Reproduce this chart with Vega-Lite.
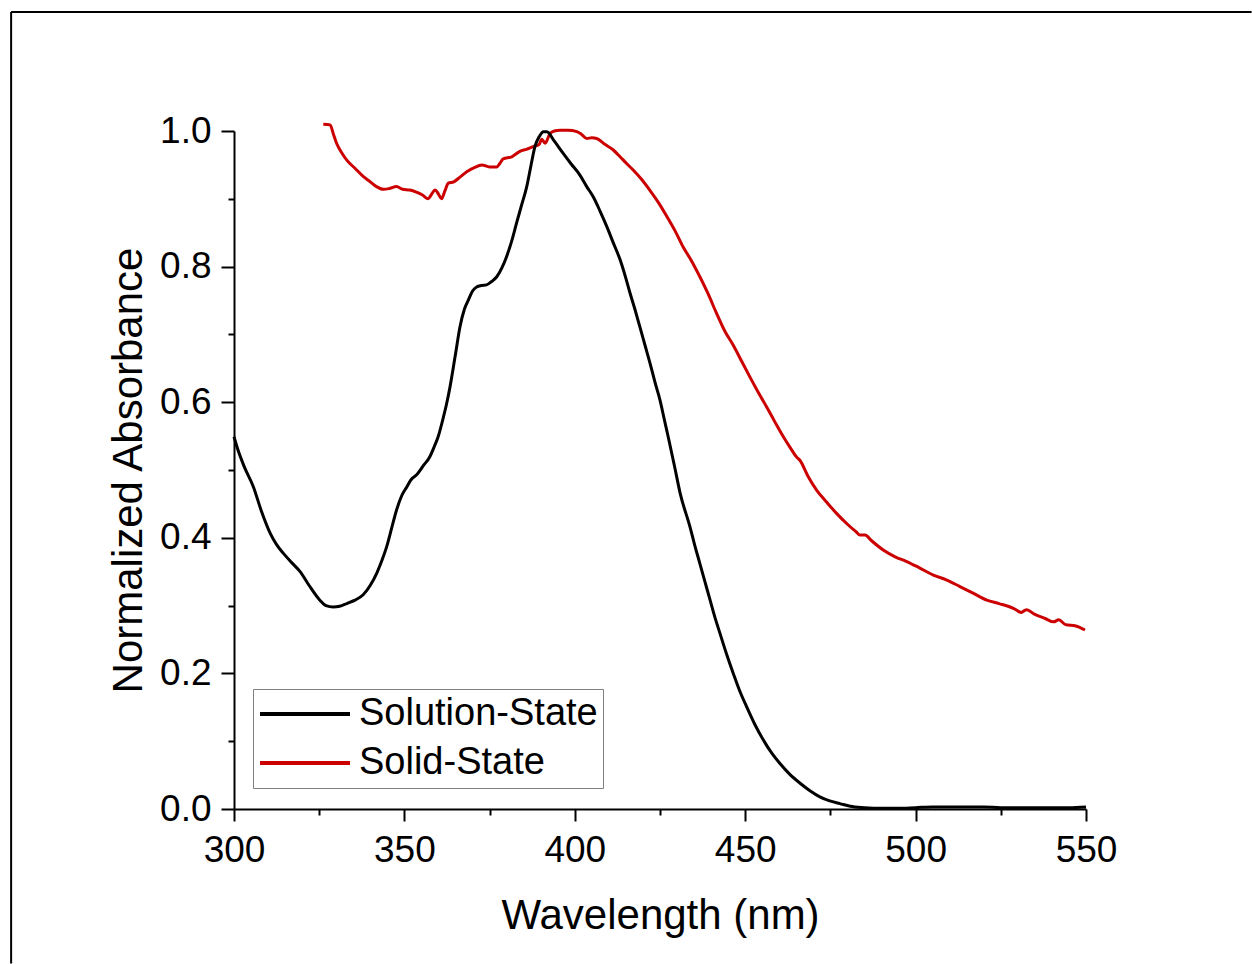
{
  "$schema": "https://vega.github.io/schema/vega-lite/v6.json",
  "autosize": "none",
  "width": 852,
  "height": 678,
  "padding": {"left": 234, "top": 131, "right": 166, "bottom": 155},
  "background": "white",
  "config": {
    "view": {"stroke": null},
    "font": "Liberation Sans",
    "axis": {"grid": false, "domainColor": "black", "domainWidth": 2, "tickColor": "black", "tickWidth": 2, "labelColor": "black", "titleColor": "black", "labelFont": "Liberation Sans", "titleFont": "Liberation Sans", "labelFontSize": 37, "titleFontSize": 42, "titleFontWeight": "normal"}
  },
  "datasets": {
    "spectra": [
      {"wl": 326.2, "abs": 1.010, "series": "Solid-State"},
      {"wl": 328.2, "abs": 1.009, "series": "Solid-State"},
      {"wl": 329.2, "abs": 0.995, "series": "Solid-State"},
      {"wl": 330.1, "abs": 0.982, "series": "Solid-State"},
      {"wl": 331.6, "abs": 0.968, "series": "Solid-State"},
      {"wl": 333.1, "abs": 0.957, "series": "Solid-State"},
      {"wl": 335.5, "abs": 0.945, "series": "Solid-State"},
      {"wl": 337.9, "abs": 0.933, "series": "Solid-State"},
      {"wl": 340.0, "abs": 0.925, "series": "Solid-State"},
      {"wl": 341.8, "abs": 0.918, "series": "Solid-State"},
      {"wl": 343.8, "abs": 0.914, "series": "Solid-State"},
      {"wl": 345.5, "abs": 0.915, "series": "Solid-State"},
      {"wl": 347.7, "abs": 0.918, "series": "Solid-State"},
      {"wl": 349.5, "abs": 0.914, "series": "Solid-State"},
      {"wl": 351.6, "abs": 0.913, "series": "Solid-State"},
      {"wl": 353.5, "abs": 0.910, "series": "Solid-State"},
      {"wl": 355.2, "abs": 0.906, "series": "Solid-State"},
      {"wl": 357.0, "abs": 0.900, "series": "Solid-State"},
      {"wl": 358.0, "abs": 0.907, "series": "Solid-State"},
      {"wl": 359.0, "abs": 0.913, "series": "Solid-State"},
      {"wl": 360.0, "abs": 0.907, "series": "Solid-State"},
      {"wl": 360.9, "abs": 0.900, "series": "Solid-State"},
      {"wl": 361.9, "abs": 0.912, "series": "Solid-State"},
      {"wl": 362.9, "abs": 0.923, "series": "Solid-State"},
      {"wl": 364.5, "abs": 0.925, "series": "Solid-State"},
      {"wl": 366.3, "abs": 0.932, "series": "Solid-State"},
      {"wl": 368.3, "abs": 0.940, "series": "Solid-State"},
      {"wl": 370.5, "abs": 0.946, "series": "Solid-State"},
      {"wl": 372.7, "abs": 0.950, "series": "Solid-State"},
      {"wl": 375.0, "abs": 0.947, "series": "Solid-State"},
      {"wl": 377.1, "abs": 0.947, "series": "Solid-State"},
      {"wl": 378.0, "abs": 0.952, "series": "Solid-State"},
      {"wl": 379.0, "abs": 0.959, "series": "Solid-State"},
      {"wl": 381.5, "abs": 0.962, "series": "Solid-State"},
      {"wl": 383.9, "abs": 0.970, "series": "Solid-State"},
      {"wl": 385.8, "abs": 0.973, "series": "Solid-State"},
      {"wl": 387.8, "abs": 0.977, "series": "Solid-State"},
      {"wl": 389.5, "abs": 0.980, "series": "Solid-State"},
      {"wl": 390.3, "abs": 0.988, "series": "Solid-State"},
      {"wl": 391.3, "abs": 0.982, "series": "Solid-State"},
      {"wl": 392.7, "abs": 0.996, "series": "Solid-State"},
      {"wl": 394.0, "abs": 1.000, "series": "Solid-State"},
      {"wl": 395.7, "abs": 1.001, "series": "Solid-State"},
      {"wl": 398.0, "abs": 1.001, "series": "Solid-State"},
      {"wl": 400.6, "abs": 0.999, "series": "Solid-State"},
      {"wl": 402.0, "abs": 0.995, "series": "Solid-State"},
      {"wl": 403.5, "abs": 0.989, "series": "Solid-State"},
      {"wl": 405.0, "abs": 0.990, "series": "Solid-State"},
      {"wl": 406.4, "abs": 0.989, "series": "Solid-State"},
      {"wl": 408.9, "abs": 0.980, "series": "Solid-State"},
      {"wl": 411.3, "abs": 0.972, "series": "Solid-State"},
      {"wl": 413.3, "abs": 0.962, "series": "Solid-State"},
      {"wl": 415.2, "abs": 0.952, "series": "Solid-State"},
      {"wl": 417.2, "abs": 0.942, "series": "Solid-State"},
      {"wl": 419.7, "abs": 0.928, "series": "Solid-State"},
      {"wl": 422.1, "abs": 0.912, "series": "Solid-State"},
      {"wl": 424.6, "abs": 0.894, "series": "Solid-State"},
      {"wl": 427.0, "abs": 0.874, "series": "Solid-State"},
      {"wl": 429.5, "abs": 0.852, "series": "Solid-State"},
      {"wl": 431.8, "abs": 0.829, "series": "Solid-State"},
      {"wl": 434.3, "abs": 0.808, "series": "Solid-State"},
      {"wl": 436.7, "abs": 0.785, "series": "Solid-State"},
      {"wl": 439.1, "abs": 0.760, "series": "Solid-State"},
      {"wl": 441.6, "abs": 0.731, "series": "Solid-State"},
      {"wl": 444.0, "abs": 0.705, "series": "Solid-State"},
      {"wl": 446.5, "abs": 0.684, "series": "Solid-State"},
      {"wl": 449.0, "abs": 0.660, "series": "Solid-State"},
      {"wl": 451.4, "abs": 0.637, "series": "Solid-State"},
      {"wl": 453.9, "abs": 0.614, "series": "Solid-State"},
      {"wl": 456.3, "abs": 0.593, "series": "Solid-State"},
      {"wl": 458.7, "abs": 0.571, "series": "Solid-State"},
      {"wl": 461.2, "abs": 0.549, "series": "Solid-State"},
      {"wl": 463.2, "abs": 0.533, "series": "Solid-State"},
      {"wl": 465.1, "abs": 0.519, "series": "Solid-State"},
      {"wl": 466.1, "abs": 0.514, "series": "Solid-State"},
      {"wl": 468.5, "abs": 0.490, "series": "Solid-State"},
      {"wl": 471.0, "abs": 0.470, "series": "Solid-State"},
      {"wl": 474.0, "abs": 0.452, "series": "Solid-State"},
      {"wl": 476.8, "abs": 0.436, "series": "Solid-State"},
      {"wl": 480.0, "abs": 0.420, "series": "Solid-State"},
      {"wl": 482.5, "abs": 0.409, "series": "Solid-State"},
      {"wl": 483.7, "abs": 0.404, "series": "Solid-State"},
      {"wl": 485.2, "abs": 0.404, "series": "Solid-State"},
      {"wl": 487.0, "abs": 0.396, "series": "Solid-State"},
      {"wl": 490.5, "abs": 0.382, "series": "Solid-State"},
      {"wl": 494.0, "abs": 0.372, "series": "Solid-State"},
      {"wl": 497.4, "abs": 0.365, "series": "Solid-State"},
      {"wl": 501.0, "abs": 0.356, "series": "Solid-State"},
      {"wl": 505.2, "abs": 0.345, "series": "Solid-State"},
      {"wl": 509.0, "abs": 0.338, "series": "Solid-State"},
      {"wl": 513.0, "abs": 0.328, "series": "Solid-State"},
      {"wl": 517.0, "abs": 0.318, "series": "Solid-State"},
      {"wl": 520.9, "abs": 0.308, "series": "Solid-State"},
      {"wl": 524.5, "abs": 0.303, "series": "Solid-State"},
      {"wl": 528.7, "abs": 0.296, "series": "Solid-State"},
      {"wl": 531.0, "abs": 0.290, "series": "Solid-State"},
      {"wl": 532.5, "abs": 0.294, "series": "Solid-State"},
      {"wl": 535.0, "abs": 0.287, "series": "Solid-State"},
      {"wl": 538.0, "abs": 0.281, "series": "Solid-State"},
      {"wl": 540.5, "abs": 0.276, "series": "Solid-State"},
      {"wl": 542.0, "abs": 0.279, "series": "Solid-State"},
      {"wl": 544.0, "abs": 0.272, "series": "Solid-State"},
      {"wl": 547.0, "abs": 0.270, "series": "Solid-State"},
      {"wl": 549.7, "abs": 0.264, "series": "Solid-State"},
      {"wl": 300.0, "abs": 0.549, "series": "Solution-State"},
      {"wl": 301.0, "abs": 0.532, "series": "Solution-State"},
      {"wl": 303.0, "abs": 0.505, "series": "Solution-State"},
      {"wl": 305.7, "abs": 0.475, "series": "Solution-State"},
      {"wl": 308.0, "abs": 0.440, "series": "Solution-State"},
      {"wl": 310.6, "abs": 0.407, "series": "Solution-State"},
      {"wl": 312.5, "abs": 0.390, "series": "Solution-State"},
      {"wl": 314.5, "abs": 0.377, "series": "Solution-State"},
      {"wl": 317.0, "abs": 0.363, "series": "Solution-State"},
      {"wl": 319.4, "abs": 0.350, "series": "Solution-State"},
      {"wl": 322.0, "abs": 0.330, "series": "Solution-State"},
      {"wl": 325.2, "abs": 0.308, "series": "Solution-State"},
      {"wl": 327.0, "abs": 0.300, "series": "Solution-State"},
      {"wl": 329.1, "abs": 0.298, "series": "Solution-State"},
      {"wl": 331.0, "abs": 0.299, "series": "Solution-State"},
      {"wl": 333.1, "abs": 0.303, "series": "Solution-State"},
      {"wl": 335.5, "abs": 0.308, "series": "Solution-State"},
      {"wl": 337.9, "abs": 0.316, "series": "Solution-State"},
      {"wl": 340.0, "abs": 0.330, "series": "Solution-State"},
      {"wl": 341.9, "abs": 0.348, "series": "Solution-State"},
      {"wl": 343.5, "abs": 0.368, "series": "Solution-State"},
      {"wl": 344.8, "abs": 0.387, "series": "Solution-State"},
      {"wl": 346.3, "abs": 0.415, "series": "Solution-State"},
      {"wl": 347.7, "abs": 0.441, "series": "Solution-State"},
      {"wl": 349.2, "abs": 0.462, "series": "Solution-State"},
      {"wl": 350.7, "abs": 0.475, "series": "Solution-State"},
      {"wl": 352.0, "abs": 0.486, "series": "Solution-State"},
      {"wl": 353.6, "abs": 0.493, "series": "Solution-State"},
      {"wl": 355.5, "abs": 0.506, "series": "Solution-State"},
      {"wl": 357.5, "abs": 0.520, "series": "Solution-State"},
      {"wl": 358.8, "abs": 0.535, "series": "Solution-State"},
      {"wl": 359.9, "abs": 0.549, "series": "Solution-State"},
      {"wl": 361.2, "abs": 0.573, "series": "Solution-State"},
      {"wl": 362.4, "abs": 0.598, "series": "Solution-State"},
      {"wl": 363.4, "abs": 0.623, "series": "Solution-State"},
      {"wl": 364.9, "abs": 0.668, "series": "Solution-State"},
      {"wl": 366.3, "abs": 0.711, "series": "Solution-State"},
      {"wl": 367.6, "abs": 0.737, "series": "Solution-State"},
      {"wl": 368.8, "abs": 0.751, "series": "Solution-State"},
      {"wl": 370.0, "abs": 0.764, "series": "Solution-State"},
      {"wl": 371.2, "abs": 0.770, "series": "Solution-State"},
      {"wl": 372.6, "abs": 0.772, "series": "Solution-State"},
      {"wl": 374.1, "abs": 0.773, "series": "Solution-State"},
      {"wl": 375.6, "abs": 0.778, "series": "Solution-State"},
      {"wl": 377.1, "abs": 0.785, "series": "Solution-State"},
      {"wl": 378.6, "abs": 0.798, "series": "Solution-State"},
      {"wl": 380.0, "abs": 0.815, "series": "Solution-State"},
      {"wl": 381.5, "abs": 0.838, "series": "Solution-State"},
      {"wl": 382.9, "abs": 0.864, "series": "Solution-State"},
      {"wl": 384.4, "abs": 0.891, "series": "Solution-State"},
      {"wl": 385.9, "abs": 0.918, "series": "Solution-State"},
      {"wl": 387.1, "abs": 0.948, "series": "Solution-State"},
      {"wl": 388.3, "abs": 0.977, "series": "Solution-State"},
      {"wl": 389.6, "abs": 0.992, "series": "Solution-State"},
      {"wl": 390.8, "abs": 0.999, "series": "Solution-State"},
      {"wl": 391.8, "abs": 0.999, "series": "Solution-State"},
      {"wl": 394.0, "abs": 0.985, "series": "Solution-State"},
      {"wl": 396.6, "abs": 0.967, "series": "Solution-State"},
      {"wl": 399.0, "abs": 0.951, "series": "Solution-State"},
      {"wl": 401.5, "abs": 0.935, "series": "Solution-State"},
      {"wl": 403.5, "abs": 0.918, "series": "Solution-State"},
      {"wl": 405.4, "abs": 0.903, "series": "Solution-State"},
      {"wl": 407.4, "abs": 0.882, "series": "Solution-State"},
      {"wl": 409.4, "abs": 0.859, "series": "Solution-State"},
      {"wl": 411.3, "abs": 0.835, "series": "Solution-State"},
      {"wl": 413.3, "abs": 0.810, "series": "Solution-State"},
      {"wl": 414.8, "abs": 0.786, "series": "Solution-State"},
      {"wl": 416.2, "abs": 0.761, "series": "Solution-State"},
      {"wl": 417.7, "abs": 0.736, "series": "Solution-State"},
      {"wl": 419.1, "abs": 0.711, "series": "Solution-State"},
      {"wl": 420.6, "abs": 0.684, "series": "Solution-State"},
      {"wl": 422.1, "abs": 0.657, "series": "Solution-State"},
      {"wl": 423.5, "abs": 0.630, "series": "Solution-State"},
      {"wl": 425.0, "abs": 0.603, "series": "Solution-State"},
      {"wl": 426.2, "abs": 0.576, "series": "Solution-State"},
      {"wl": 427.4, "abs": 0.549, "series": "Solution-State"},
      {"wl": 429.2, "abs": 0.507, "series": "Solution-State"},
      {"wl": 430.9, "abs": 0.466, "series": "Solution-State"},
      {"wl": 433.8, "abs": 0.416, "series": "Solution-State"},
      {"wl": 435.2, "abs": 0.389, "series": "Solution-State"},
      {"wl": 436.7, "abs": 0.362, "series": "Solution-State"},
      {"wl": 438.2, "abs": 0.335, "series": "Solution-State"},
      {"wl": 439.7, "abs": 0.308, "series": "Solution-State"},
      {"wl": 441.1, "abs": 0.283, "series": "Solution-State"},
      {"wl": 442.6, "abs": 0.259, "series": "Solution-State"},
      {"wl": 444.5, "abs": 0.229, "series": "Solution-State"},
      {"wl": 446.5, "abs": 0.200, "series": "Solution-State"},
      {"wl": 448.4, "abs": 0.174, "series": "Solution-State"},
      {"wl": 450.4, "abs": 0.151, "series": "Solution-State"},
      {"wl": 452.8, "abs": 0.125, "series": "Solution-State"},
      {"wl": 455.3, "abs": 0.102, "series": "Solution-State"},
      {"wl": 457.7, "abs": 0.083, "series": "Solution-State"},
      {"wl": 460.2, "abs": 0.067, "series": "Solution-State"},
      {"wl": 463.1, "abs": 0.051, "series": "Solution-State"},
      {"wl": 466.1, "abs": 0.038, "series": "Solution-State"},
      {"wl": 469.0, "abs": 0.027, "series": "Solution-State"},
      {"wl": 471.9, "abs": 0.018, "series": "Solution-State"},
      {"wl": 474.8, "abs": 0.012, "series": "Solution-State"},
      {"wl": 477.8, "abs": 0.008, "series": "Solution-State"},
      {"wl": 480.8, "abs": 0.004, "series": "Solution-State"},
      {"wl": 485.0, "abs": 0.002, "series": "Solution-State"},
      {"wl": 490.0, "abs": 0.001, "series": "Solution-State"},
      {"wl": 495.0, "abs": 0.001, "series": "Solution-State"},
      {"wl": 500.0, "abs": 0.002, "series": "Solution-State"},
      {"wl": 505.0, "abs": 0.003, "series": "Solution-State"},
      {"wl": 510.0, "abs": 0.003, "series": "Solution-State"},
      {"wl": 515.0, "abs": 0.003, "series": "Solution-State"},
      {"wl": 520.0, "abs": 0.003, "series": "Solution-State"},
      {"wl": 525.0, "abs": 0.002, "series": "Solution-State"},
      {"wl": 530.0, "abs": 0.002, "series": "Solution-State"},
      {"wl": 535.0, "abs": 0.002, "series": "Solution-State"},
      {"wl": 540.0, "abs": 0.002, "series": "Solution-State"},
      {"wl": 545.0, "abs": 0.002, "series": "Solution-State"},
      {"wl": 550.0, "abs": 0.003, "series": "Solution-State"}
    ],
    "frame": [{"name": "frame"}]
  },
  "layer": [
    {
      "data": {"name": "frame"},
      "mark": {"type": "rule", "stroke": "black", "strokeWidth": 2, "clip": false},
      "encoding": {
        "x": {"datum": 234.6, "type": "quantitative", "scale": {"domain": [300, 550]}},
        "y": {"datum": 1.1755, "type": "quantitative", "scale": {"domain": [0, 1]}},
        "y2": {"datum": -0.228}
      }
    },
    {
      "data": {"name": "frame"},
      "mark": {"type": "rule", "stroke": "black", "strokeWidth": 2, "clip": false},
      "encoding": {
        "x": {"datum": 234.6, "type": "quantitative"},
        "x2": {"datum": 598.6},
        "y": {"datum": 1.1755, "type": "quantitative"}
      }
    },
    {
      "data": {"name": "spectra"},
      "mark": {"type": "line", "strokeWidth": 3, "clip": false, "interpolate": "monotone"},
      "encoding": {
        "x": {
          "field": "wl", "type": "quantitative",
          "scale": {"domain": [300, 550], "nice": false, "zero": false},
          "axis": {
            "title": "Wavelength (nm)",
            "values": [300, 325, 350, 375, 400, 425, 450, 475, 500, 525, 550],
            "labelExpr": "datum.value % 50 == 0 ? datum.label : ''",
            "tickSize": {"condition": {"test": "datum.value % 50 != 0", "value": 6}, "value": 12},
            "labelPadding": 11,
            "titlePadding": 27,
            "labelFlush": false
          }
        },
        "y": {
          "field": "abs", "type": "quantitative",
          "scale": {"domain": [0, 1], "nice": false},
          "axis": {
            "title": "Normalized Absorbance",
            "values": [0, 0.1, 0.2, 0.3, 0.4, 0.5, 0.6, 0.7, 0.8, 0.9, 1.0],
            "format": ".1f",
            "labelExpr": "round(datum.value * 10) % 2 == 0 ? datum.label : ''",
            "tickSize": {"condition": {"test": "round(datum.value * 10) % 2 != 0", "value": 6}, "value": 13},
            "labelPadding": 10,
            "titlePadding": 9,
            "labelFlush": false
          }
        },
        "color": {
          "field": "series", "type": "nominal",
          "scale": {"domain": ["Solution-State", "Solid-State"], "range": ["#000000", "#cc0000"]},
          "legend": {
            "title": null,
            "orient": "none",
            "legendX": 19,
            "legendY": 558,
            "symbolType": "stroke",
            "symbolSize": 8100,
            "symbolStrokeWidth": 4,
            "clipHeight": 40,
            "labelFontSize": 38,
            "labelFont": "Liberation Sans",
            "labelColor": "black",
            "labelOffset": 7,
            "labelLimit": 500,
            "strokeColor": "#808080",
            "fillColor": "white",
            "padding": 5,
            "rowPadding": 9
          }
        }
      }
    }
  ]
}
